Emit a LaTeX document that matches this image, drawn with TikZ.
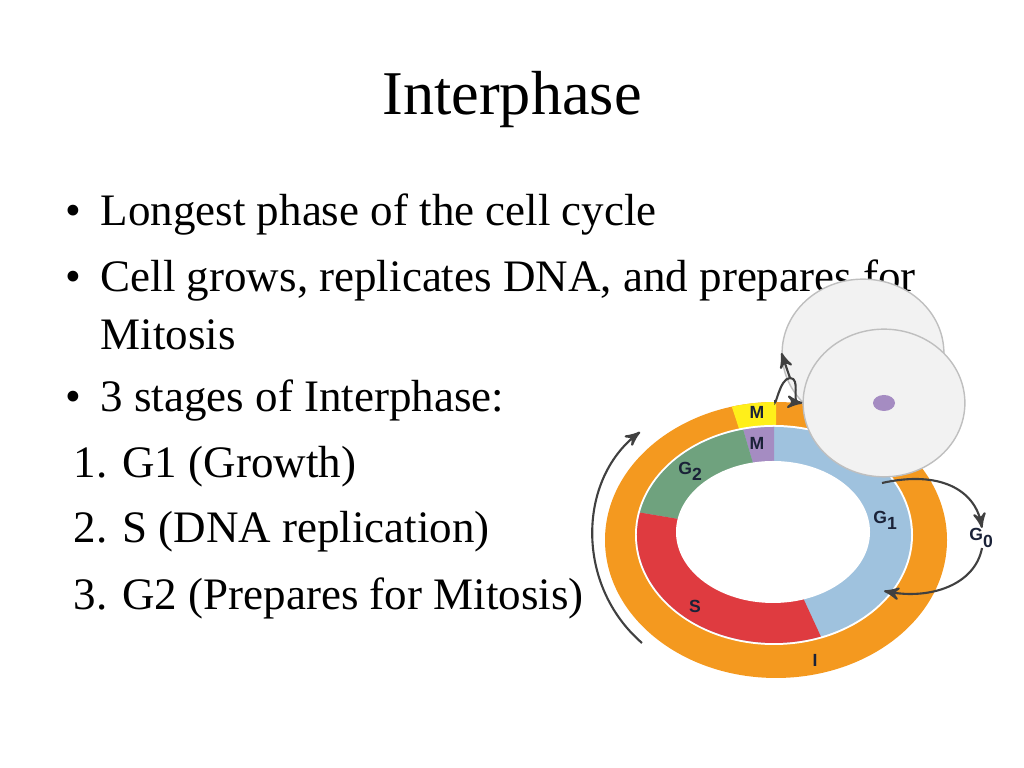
\documentclass[tikz,border=0pt]{standalone}
\usepackage{fontspec}
\setmainfont{Liberation Serif}
\newfontfamily\labelfont{Liberation Sans}
\usetikzlibrary{positioning}
\usetikzlibrary{arrows,calc,shapes.geometric}
\definecolor{ringorange}{HTML}{F4991F}
\definecolor{gonered}{HTML}{9FC2DE}
\definecolor{gtwogreen}{HTML}{6FA27E}
\definecolor{sred}{HTML}{DF3B40}
\definecolor{mpurple}{HTML}{A58CC2}
\definecolor{myellow}{HTML}{FFEF1A}
\definecolor{labelblue}{HTML}{1A2238}
\tikzset{
    >=stealth',
    % bullet text
    txt/.style={anchor=west, inner sep=0pt, font=\fontsize{12.8}{14}\selectfont},
    % phase labels
    phase/.style={inner sep=0pt, text=labelblue, font=\labelfont\bfseries\fontsize{5}{6}\selectfont},
    % daughter cells
    cell/.style={draw=black!25, fill=black!5, ellipse, minimum width=46, minimum height=42, inner sep=0pt,
      path picture={\fill[mpurple] (path picture bounding box.center) ellipse[x radius=11, y radius=8];}},
    pil/.style={->, semithick, color=black!75}
}

\begin{document}
\begin{tikzpicture}[x=0.01cm, y=-0.01cm]
\useasboundingbox (0,0) rectangle (1024,768);

\node[font=\fontsize{17.7}{20}\selectfont] (title) at (512,100) {Interphase};

\node[txt] (b1) at (65,215) {\textbullet};
\node[txt] (l1) at (100,215) {Longest phase of the cell cycle};
\node[txt] (b2) at (65,281) {\textbullet};
\node[txt] (l2) at (100,281) {Cell grows, replicates DNA, and prepares for};
\node[txt] (l3) at (100,335) {Mitosis};
\node[txt] (b3) at (65,401) {\textbullet};
\node[txt] (l4) at (100,401) {3 stages of Interphase:};
\node[txt] (n1) at (73,467) {1. G1 (Growth)};
\node[txt] (n2) at (73,532) {2. S (DNA replication)};
\node[txt] (n3) at (73,598) {3. G2 (Prepares for Mitosis)};

% outer ring
\fill[ringorange] (776,540) ellipse[x radius=171, y radius=138];
\fill[myellow] (776,540) -- ++(-90:171 and 138) arc[start angle=-90, end angle=-105, x radius=171, y radius=138] -- cycle;
% separation
\fill[white] (774,535) ellipse[x radius=139, y radius=110];
% inner ring segments (y axis points down: negative angles are up)
\fill[gonered] (774,535) ellipse[x radius=137, y radius=108];
\fill[mpurple] (774,535) -- ++(-90:137 and 108) arc[start angle=-90, end angle=-103, x radius=137, y radius=108] -- cycle;
\fill[gtwogreen] (774,535) -- ++(-103:137 and 108) arc[start angle=-103, end angle=-168, x radius=137, y radius=108] -- cycle;
\fill[sred] (774,535) -- ++(-168:137 and 108) arc[start angle=-168, end angle=-290, x radius=137, y radius=108] -- cycle;
\fill[white] (773,532) ellipse[x radius=97, y radius=71];

\node[phase] (mout) at (757,412) {M};
\node[phase] (min) at (757,443) {M};
\node[phase] (gtwo) at (691,471) {G\textsubscript{2}};
\node[phase] (gone) at (886,520) {G\textsubscript{1}};
\node[phase] (sph) at (695,606) {S};
\node[phase] (iph) at (815,660) {I};
\node[phase] (gzero) at (982,538) {G\textsubscript{0}};

\node[cell] (cella) at (863,353) {};
\node[cell] (cellb) at (884,403) {};
\coordinate (mtop) at (775,400);
\coordinate (fork) at (790,378);
\draw[pil] (mtop) to[out=-90, in=180] (fork) -- (cella.west);
\draw[pil] (fork) to[out=0, in=175] (cellb.west);

% G0 loop
\coordinate (goneout) at (882,483);
\coordinate (gonein) at (884,591);
\draw[pil] (goneout) .. controls (940,470) and (975,490) .. (gzero.north);
\draw[pil] (gzero.south) .. controls (975,585) and (930,600) .. (gonein);

% direction arrow
\coordinate (dirstart) at (642,643);
\coordinate (dirend) at (640,432);
\draw[pil] (dirstart) .. controls (575,585) and (578,480) .. (dirend);
\end{tikzpicture}
\end{document}
